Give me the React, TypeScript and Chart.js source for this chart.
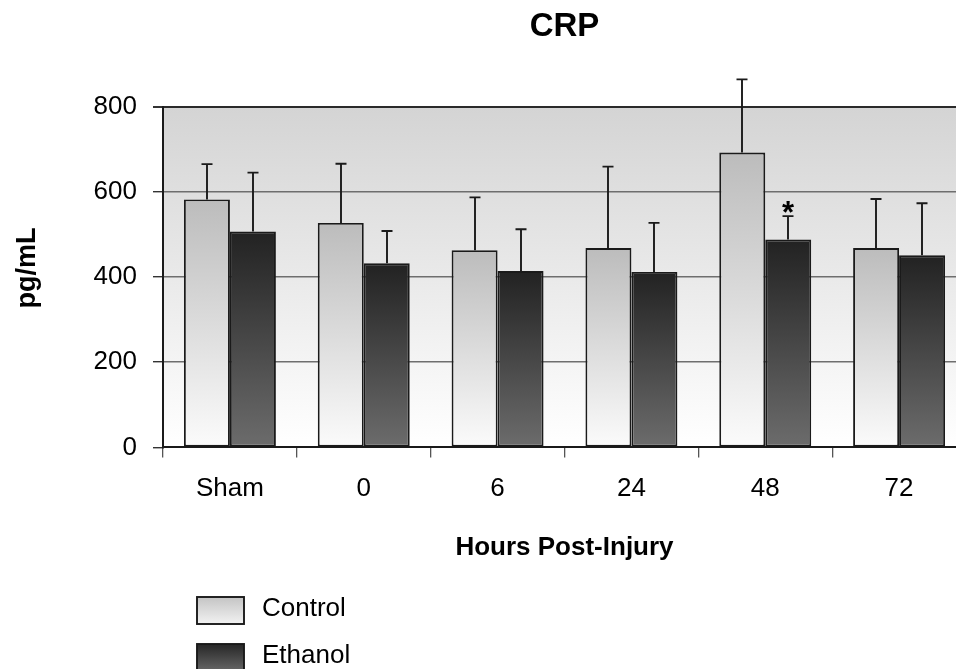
import React, { useEffect, useRef } from "react";
import { Chart, registerables } from "chart.js";

Chart.register(...registerables);

const categories = ["Sham", "0", "6", "24", "48", "72"];
const controlValues = [582, 527, 463, 468, 692, 468];
const controlErrors = [83, 139, 124, 191, 172, 115];
const ethanolValues = [507, 432, 414, 412, 488, 451];
const ethanolErrors = [138, 76, 98, 115, 55, 122];
const ethanolMarks = ["", "", "", "", "*", ""];
const yTicks = [0, 200, 400, 600, 800];
const seriesNames = ["Control", "Ethanol"];

const FONT = "'Liberation Sans', Arial, Helvetica, sans-serif";

const controlStops: [string, string] = ["#bcbcbc", "#fbfbfb"];
const ethanolStops: [string, string] = ["#222222", "#6c6c6c"];
const legendStops: [string, string][] = [
  ["#c4c4c4", "#f2f2f2"],
  ["#262626", "#666666"],
];

function barGradient(stops: [string, string]) {
  return (ctx: any) => {
    const chart = ctx.chart;
    const area = chart.chartArea;
    if (!area || ctx.raw == null) return stops[0];
    const ys = chart.scales.y;
    const top = ys.getPixelForValue(ctx.raw);
    const base = ys.getPixelForValue(0);
    const g = chart.ctx.createLinearGradient(0, top, 0, base);
    g.addColorStop(0, stops[0]);
    g.addColorStop(1, stops[1]);
    return g;
  };
}

const customPlugin = {
  id: "custom",
  beforeDraw(chart: any) {
    const { ctx, chartArea: a } = chart;
    if (!a) return;
    const g = ctx.createLinearGradient(0, a.top, 0, a.bottom);
    g.addColorStop(0, "#d4d4d4");
    g.addColorStop(1, "#ffffff");
    ctx.save();
    ctx.fillStyle = g;
    ctx.fillRect(a.left, a.top, a.right - a.left, a.bottom - a.top);
    ctx.restore();
  },
  afterDatasetsDraw(chart: any) {
    const { ctx, chartArea: a } = chart;
    const ys = chart.scales.y;
    const errs = [controlErrors, ethanolErrors];
    const vals = [controlValues, ethanolValues];
    ctx.save();
    ctx.strokeStyle = "#1a1a1a";
    ctx.lineWidth = 1.9;
    for (let d = 0; d < 2; d++) {
      const meta = chart.getDatasetMeta(d);
      meta.data.forEach((bar: any, i: number) => {
        const x = Math.round(bar.x);
        const y0 = ys.getPixelForValue(vals[d][i]);
        const y1 = ys.getPixelForValue(vals[d][i] + errs[d][i]);
        ctx.beginPath();
        ctx.moveTo(x, y0);
        ctx.lineTo(x, y1);
        ctx.moveTo(x - 5.5, y1);
        ctx.lineTo(x + 5.5, y1);
        ctx.stroke();
        if (d === 1 && ethanolMarks[i]) {
          ctx.fillStyle = "#000";
          ctx.font = `bold 31px ${FONT}`;
          ctx.textAlign = "center";
          ctx.textBaseline = "alphabetic";
          ctx.fillText(ethanolMarks[i], x, y1 + 7);
        }
      });
    }
    ctx.restore();

    // y axis title
    ctx.save();
    ctx.translate(a.left - 135, (a.top + a.bottom) / 2 - 9);
    ctx.rotate(-Math.PI / 2);
    ctx.font = `bold 27px ${FONT}`;
    ctx.fillStyle = "#000";
    ctx.textAlign = "center";
    ctx.textBaseline = "middle";
    ctx.fillText("pg/mL", 0, 0);
    ctx.restore();

    // legend
    const xs = chart.scales.x;
    const lx = a.left + 34;
    let ly = xs.bottom + 30;
    ctx.save();
    for (let k = 0; k < seriesNames.length; k++) {
      const bw = 47, bh = 27;
      const g = ctx.createLinearGradient(0, ly, 0, ly + bh);
      g.addColorStop(0, legendStops[k][0]);
      g.addColorStop(1, legendStops[k][1]);
      ctx.fillStyle = g;
      ctx.fillRect(lx, ly, bw, bh);
      ctx.strokeStyle = "#1a1a1a";
      ctx.lineWidth = 1.9;
      ctx.strokeRect(lx, ly, bw, bh);
      ctx.fillStyle = "#000";
      ctx.font = `26px ${FONT}`;
      ctx.textAlign = "left";
      ctx.textBaseline = "middle";
      ctx.fillText(seriesNames[k], lx + bw + 18, ly + bh / 2 - 2);
      ly += 47;
    }
    ctx.restore();
  },
};

export default function App() {
  const ref = useRef<HTMLCanvasElement | null>(null);
  useEffect(() => {
    if (!ref.current) return;
    const chart = new Chart(ref.current, {
      type: "bar",
      data: {
        labels: categories,
        datasets: [
          {
            label: seriesNames[0],
            data: controlValues,
            backgroundColor: barGradient(controlStops) as any,
            borderColor: "#1a1a1a",
            borderWidth: 1.9,
            borderSkipped: false,
            categoryPercentage: 0.687,
            barPercentage: 1,
          },
          {
            label: seriesNames[1],
            data: ethanolValues,
            backgroundColor: barGradient(ethanolStops) as any,
            borderColor: "#1a1a1a",
            borderWidth: 1.9,
            borderSkipped: false,
            categoryPercentage: 0.687,
            barPercentage: 1,
          },
        ],
      },
      options: {
        responsive: false,
        animation: false,
        devicePixelRatio: 1,
        layout: { padding: { left: 0, right: 14, top: 0, bottom: 102 } },
        plugins: {
          legend: { display: false },
          tooltip: { enabled: false },
          title: {
            display: true,
            text: "CRP",
            fullSize: false,
            color: "#000",
            font: { family: FONT, size: 33, weight: "bold" },
            padding: { top: 7, bottom: 60 },
          },
        },
        scales: {
          x: {
            afterFit: (s: any) => {
              s.height = 119.6;
            },
            grid: {
              display: true,
              offset: true,
              drawOnChartArea: false,
              drawTicks: true,
              tickLength: 10,
              color: "#555",
              lineWidth: 1.3,
            },
            border: { display: true, color: "#1a1a1a", width: 2 },
            ticks: {
              color: "#000",
              padding: 16,
              font: { family: FONT, size: 26 },
              maxRotation: 0,
            },
            title: {
              display: true,
              text: "Hours Post-Injury",
              color: "#000",
              font: { family: FONT, size: 26, weight: "bold" },
              padding: { top: 4, bottom: 4 },
            },
          },
          y: {
            min: 0,
            max: 800,
            afterFit: (s: any) => {
              s.width = 163;
            },
            afterBuildTicks: (s: any) => {
              s.ticks = yTicks.map((v) => ({ value: v }));
            },
            grid: {
              drawTicks: true,
              tickLength: 10,
              color: (c: any) =>
                c.tick && c.tick.value === 800
                  ? "#2a2a2a"
                  : c.tick && c.tick.value === 0
                  ? "rgba(0,0,0,0)"
                  : "#6e6e6e",
              lineWidth: (c: any) => (c.tick && c.tick.value === 800 ? 2 : 1.4),
              tickColor: "#333",
            },
            border: { display: true, color: "#1a1a1a", width: 2 },
            ticks: {
              color: "#000",
              padding: 16,
              font: { family: FONT, size: 26 },
            },
          },
        },
      },
      plugins: [customPlugin],
    });
    return () => chart.destroy();
  }, []);

  return (
    <div
      style={{
        position: "fixed",
        left: 0,
        top: 0,
        width: 956,
        height: 669,
        overflow: "hidden",
        background: "#fff",
      }}
    >
      <canvas
        ref={ref}
        width={980}
        height={669}
        style={{ display: "block", width: 980, height: 669 }}
      />
    </div>
  );
}
